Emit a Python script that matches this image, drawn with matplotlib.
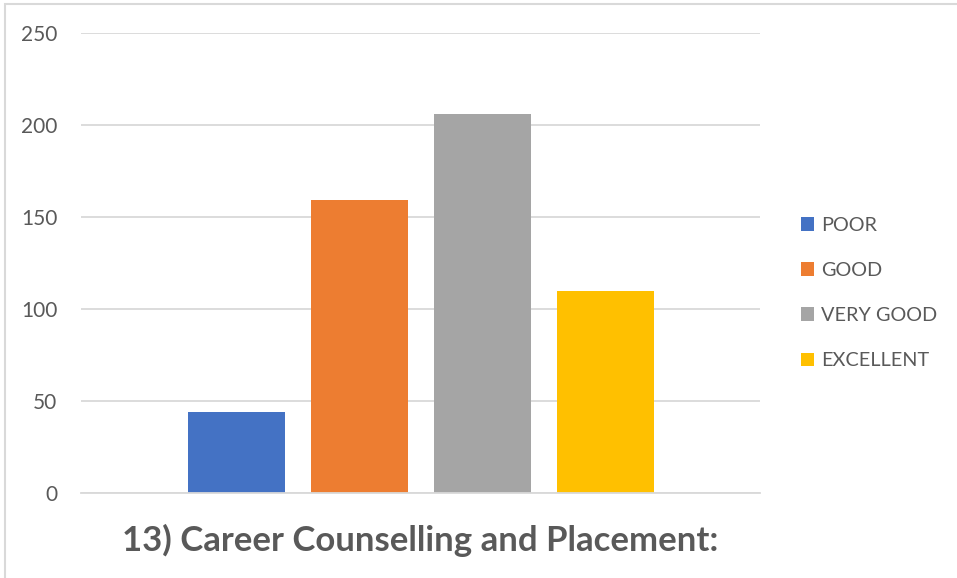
import matplotlib
matplotlib.use("Agg")
import matplotlib.pyplot as plt
from matplotlib.patches import Rectangle

# Survey responses for "Career Counselling and Placement"
categories = ["POOR", "GOOD", "VERY GOOD", "EXCELLENT"]
counts = [44, 159, 206, 110]
colors = ["#4472C4", "#ED7D31", "#A5A5A5", "#FFC000"]
y_ticks = [0, 50, 100, 150, 200, 250]
title = "13) Career Counselling and Placement:"

W, H, DPI = 957, 578, 100
fig = plt.figure(figsize=(W / DPI, H / DPI), dpi=DPI)
fig.patch.set_facecolor("white")

# plot area in pixel coordinates
left, right, top, bottom = 81, 760, 33, 493
ax = fig.add_axes([left / W, (H - bottom) / H, (right - left) / W, (bottom - top) / H])

font = "Lato"
text_color = "#595959"
grid_color = "#D9D9D9"

xs = list(range(len(categories)))
bars = ax.bar(xs, counts, width=0.789, color=colors, zorder=3)

ax.set_xlim(-1.264, 4.256)
ax.set_ylim(0, 250)
ax.set_yticks(y_ticks)
ax.set_yticklabels([str(t) for t in y_ticks], fontsize=15, color=text_color, family=font)
ax.set_xticks([])
ax.tick_params(axis="y", length=0, pad=17)
ax.yaxis.grid(True, color=grid_color, linewidth=1.3, zorder=0)
for s in ["top", "right", "left"]:
    ax.spines[s].set_visible(False)
ax.spines["bottom"].set_color(grid_color)
ax.spines["bottom"].set_linewidth(1.3)
ax.spines["bottom"].set_zorder(4)

leg = fig.legend(bars, categories, loc="upper left",
                 bbox_to_anchor=(783 / W, (H - 199) / H),
                 frameon=False, handlelength=0.68, handleheight=0.68,
                 handletextpad=0.35, labelspacing=1.42,
                 prop={"family": font, "size": 14.3})
for t in leg.get_texts():
    t.set_color(text_color)

fig.text((left + right) / 2 / W, (H - 551) / H, title, ha="center", va="baseline",
         fontsize=25, fontweight="bold", color=text_color, family=font)

# light chart-area border along the top and left edges
fig.patches.append(Rectangle((4.5 / W, -0.1), 1.2, (H - 4.5) / H + 0.1,
                             transform=fig.transFigure, fill=False,
                             edgecolor=grid_color, linewidth=1.5))

fig.savefig("out.png", dpi=DPI)
